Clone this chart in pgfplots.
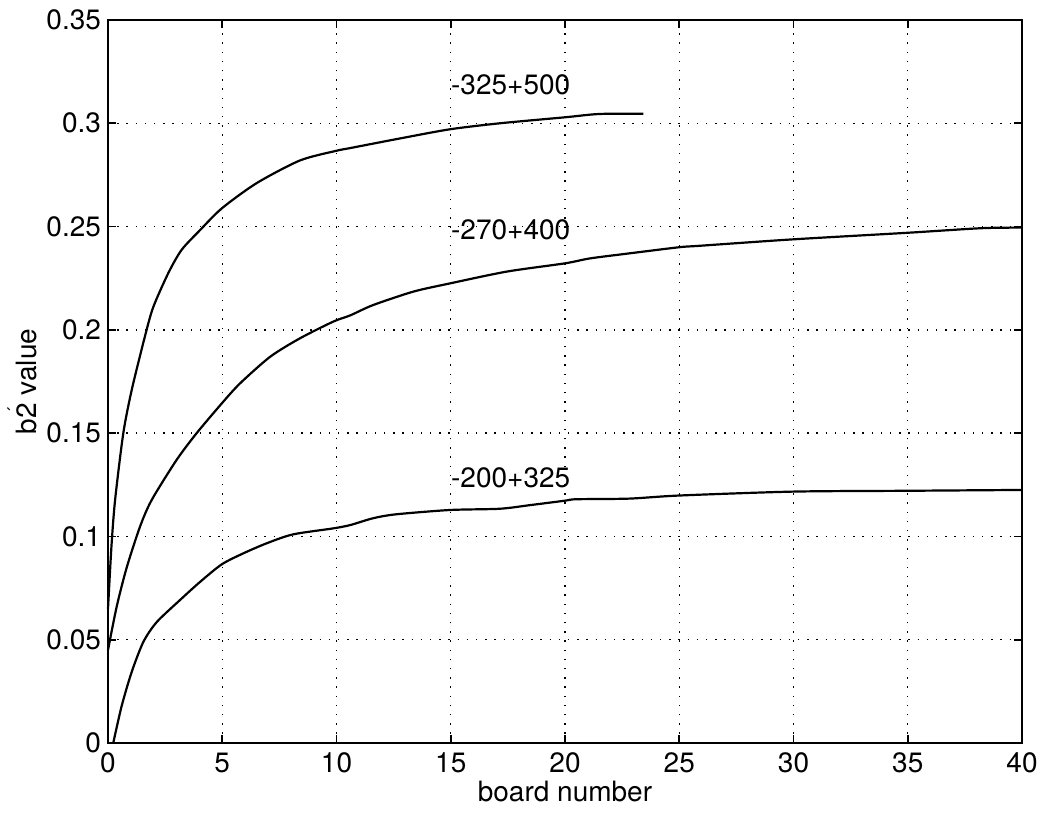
\documentclass[border=0pt]{standalone}
\usepackage{pgfplots}
\pgfplotsset{compat=1.18}
\usepackage{fontspec}
\setmainfont{TeX Gyre Heros}
\begin{document}
\begin{tikzpicture}
\begin{axis}[
  at={(0,0)}, anchor=south west,
  scale only axis, width=457pt, height=361.5pt,
  xmin=0, xmax=40, ymin=0, ymax=0.35,
  xtick={0,5,...,40},
  ytick={0,0.05,0.1,0.15,0.2,0.25,0.3,0.35},
  yticklabels={0,0.05,0.1,0.15,0.2,0.25,0.3,0.35},
  /pgf/number format/assume math mode=true,
  tick align=inside, major tick length=4pt,
  tick style={black, line width=0.9pt},
  axis line style={line width=1pt},
  grid=major,
  major grid style={black, line width=0.7pt, dash pattern=on 0.7pt off 3.9pt},
  tick label style={font=\fontsize{14}{16}\selectfont},
  xticklabel style={yshift=-1.5pt},
  xlabel={board number},
  ylabel={b\makebox[0pt][l]{\raisebox{0.55em}{\kern0.18em\fontsize{9}{10}\selectfont\char"00B4}}2 value},
  every axis x label/.style={at={(axis description cs:0.5,-0.0675)}, anchor=center, font=\fontsize{14}{16}\selectfont},
  every axis y label/.style={at={(axis description cs:-0.094,0.5)}, anchor=center, rotate=90, font=\fontsize{14}{16}\selectfont},
  clip=false,
]
\addplot[black, line width=1.1pt, smooth, tension=0.45] coordinates {
(0,0.065) (0.15,0.095) (0.31,0.1176) (0.67,0.15) (1.04,0.171) (1.62,0.197) (1.98,0.211)
(2.64,0.2275) (3.22,0.2387) (4.03,0.2483) (4.98,0.2588) (6.5,0.271) (8.4,0.282)
(10,0.2867) (10.6,0.288) (12.8,0.2927) (14.97,0.2971) (17.15,0.300) (20,0.3029)
(21.5,0.3045) (23.43,0.3046)
};
\addplot[black, line width=1.1pt, smooth, tension=0.45] coordinates {
(0,0.045) (0.38,0.066) (0.82,0.085) (1.4,0.1047) (1.91,0.1176) (3.0,0.137) (3.88,0.15)
(4.98,0.1644) (5.78,0.1741) (7.1,0.187) (8.4,0.1959) (9.86,0.204) (10.6,0.207)
(11.6,0.212) (13.36,0.2185) (14.97,0.2225) (17.45,0.2282) (20,0.2322) (21.1,0.2346)
(22.8,0.237) (25,0.24) (25.9,0.2407) (29.96,0.2438) (35,0.247) (38.2,0.2492) (40,0.2495)
};
\addplot[black, line width=1.1pt, smooth, tension=0.45] coordinates {
(0.23,0) (0.6,0.018) (1.04,0.0345) (1.55,0.049) (2.13,0.0585) (3.15,0.0692) (4.03,0.078)
(4.98,0.0865) (5.92,0.0918) (6.95,0.0967) (8.1,0.1010) (9.86,0.1039) (10.6,0.1055)
(11.6,0.1088) (12.6,0.1107) (14.97,0.1128) (17.15,0.1134) (18.5,0.1152) (20,0.1173)
(20.5,0.118) (22.8,0.1183) (25,0.1198) (30,0.1217) (35,0.1221) (40,0.1225)
};
\node[anchor=west, inner sep=0pt, font=\fontsize{14}{16}\selectfont] at (axis cs:15,0.3185) {-325+500};
\node[anchor=west, inner sep=0pt, font=\fontsize{14}{16}\selectfont] at (axis cs:15,0.2483) {-270+400};
\node[anchor=west, inner sep=0pt, font=\fontsize{14}{16}\selectfont] at (axis cs:15,0.1283) {-200+325};
\end{axis}
\pgfresetboundingbox
\path[use as bounding box] (-54pt,-35pt) rectangle (467pt,371.5pt);
\end{tikzpicture}
\end{document}
